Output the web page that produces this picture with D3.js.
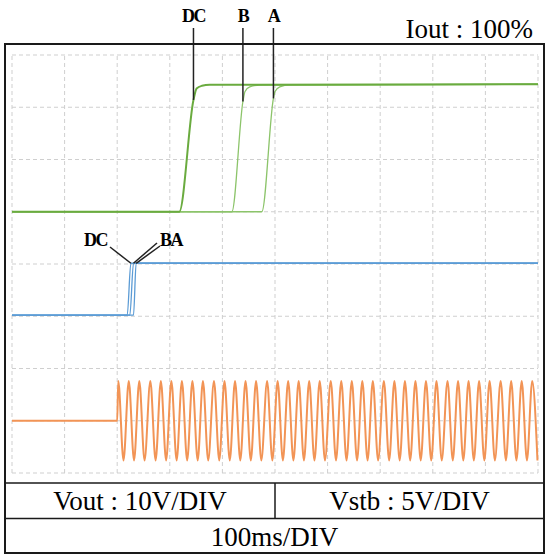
<!DOCTYPE html>
<html>
<head>
<meta charset="utf-8">
<script src="https://cdn.jsdelivr.net/npm/d3@7"></script>
<style>
  body { margin: 0; background: #fff; }
  svg { display: block; font-family: "Liberation Serif", "Times New Roman", serif; }
  .grid line { stroke: #cfcfcf; stroke-width: 1; stroke-dasharray: 4 3; }
  .frame { fill: none; stroke: #1a1a1a; stroke-width: 2; }
  .rule { stroke: #1a1a1a; stroke-width: 1.5; }
  .lead { stroke: #222; stroke-width: 1.5; fill: none; }
  .tag { font-weight: bold; font-size: 18px; letter-spacing: -1.5px; }
  .cap { font-size: 27px; }
</style>
</head>
<body>
<svg id="chart" width="546" height="554"></svg>
<script>
// time axis: 100 ms/DIV, 10 divisions
var timeSpan = [0, 1000];
var divCount = 8;

// Vout traces (ms, V) for the three cases, 10V/DIV
var voutDC = [[0, 0], [318, 0], [345, 21.4], [351, 23.6], [361, 24.1], [376, 24.3], [1000, 24.4]];
var voutB  = [[0, 0], [418, 0], [439, 21.1], [443, 23.0], [452, 23.9], [472, 24.25], [1000, 24.4]];
var voutA  = [[0, 0], [475, 0], [497, 21.7], [500, 23.0], [509, 23.9], [528, 24.3], [1000, 24.4]];

// Vstb traces (ms, V), 5V/DIV
var vstbDC = [[0, 0.1], [219, 0.1], [226, 5.07], [1000, 5.07]];
var vstbB  = [[0, 0.1], [224, 0.1], [231, 5.07], [1000, 5.07]];
var vstbA  = [[0, 0.1], [231, 0.1], [236, 5.07], [1000, 5.07]];

// AC input: off until 200 ms, then peaks / troughs
var acOn = 200;
var acPeak = 380;
var acPeakTimes = [202, 222, 242, 263, 283, 303, 323, 343, 363, 384, 404, 424, 444, 464, 485, 505, 525, 545, 565, 585,
                   606, 626, 646, 666, 686, 707, 727, 747, 767, 787, 807, 828, 848, 868, 888, 908, 929, 949, 969, 989];
var acTroughTimes = [212, 232, 252, 273, 293, 313, 333, 353, 373, 394, 414, 434, 454, 474, 495, 515, 535, 555, 575, 595,
                     616, 636, 656, 676, 696, 717, 737, 757, 777, 797, 817, 838, 858, 878, 898, 918, 939, 959, 979, 999];

var titleText = "Iout : 100%";
var tableRow1 = ["Vout : 10V/DIV", "Vstb : 5V/DIV"];
var tableRow2 = "100ms/DIV";

// channel placement on screen: ground level (div from bottom) and volts per div
var channels = {
  vout: { zero: 5, perDiv: 10 },
  vstb: { zero: 3, perDiv: 5 },
  ac:   { zero: 1, perDiv: 500 }
};

var svg = d3.select("#chart");

var x = d3.scaleLinear().domain(timeSpan).range([12, 538]);
var yDiv = d3.scaleLinear().domain([0, divCount]).range([473, 55]);

function yOf(ch) {
  var c = channels[ch];
  return v => yDiv(c.zero + v / c.perDiv);
}

// grid
var grid = svg.append("g").attr("class", "grid");
grid.selectAll(".vx")
    .data(d3.range(0, 1001, 100))
  .enter().append("line")
    .attr("x1", d => x(d)).attr("x2", d => x(d))
    .attr("y1", yDiv(0)).attr("y2", yDiv(divCount));
grid.selectAll(".hy")
    .data(d3.range(0, divCount + 1))
  .enter().append("line")
    .attr("x1", x(0)).attr("x2", x(1000))
    .attr("y1", d => yDiv(d)).attr("y2", d => yDiv(d));

function tracePath(ch) {
  var y = yOf(ch);
  return d3.line().x(d => x(d[0])).y(d => y(d[1])).curve(d3.curveMonotoneX);
}

// AC input
var acPts = [[0, 0], [acOn, 0]];
acPeakTimes.forEach((t, i) => {
  acPts.push([t, acPeak]);
  acPts.push([acTroughTimes[i], -acPeak]);
});
svg.append("path")
    .datum(acPts)
    .attr("d", tracePath("ac"))
    .attr("fill", "none")
    .attr("stroke", "#f29456")
    .attr("stroke-width", 2);

// Vstb
[vstbA, vstbB, vstbDC].forEach(d => {
  svg.append("path")
      .datum(d)
      .attr("d", tracePath("vstb"))
      .attr("fill", "none")
      .attr("stroke", "#5b9bd5")
      .attr("stroke-width", 1.3);
});

// Vout
[[voutA, 1.3, "#8cc46a"], [voutB, 1.3, "#8cc46a"], [voutDC, 2, "#6aab3f"]].forEach(s => {
  svg.append("path")
      .datum(s[0])
      .attr("d", tracePath("vout"))
      .attr("fill", "none")
      .attr("stroke", s[2])
      .attr("stroke-width", s[1]);
});

// case labels on Vout (leaders drop to the end of each rise)
var yV = yOf("vout");
[["DC", voutDC], ["B", voutB], ["A", voutA]].forEach(l => {
  var p = l[1][2];
  svg.append("line").attr("class", "lead")
      .attr("x1", x(p[0])).attr("x2", x(p[0]))
      .attr("y1", 28).attr("y2", yV(p[1]));
  svg.append("text").attr("class", "tag")
      .attr("x", x(p[0])).attr("y", 22)
      .attr("text-anchor", "middle")
      .text(l[0]);
});

// case labels on Vstb
var yS = yOf("vstb");
var dcTop = vstbDC[2], bTop = vstbB[2], aTop = vstbA[2];
svg.append("line").attr("class", "lead")
    .attr("x1", 110).attr("y1", 247).attr("x2", x(dcTop[0])).attr("y2", yS(dcTop[1]));
svg.append("line").attr("class", "lead")
    .attr("x1", 157).attr("y1", 243).attr("x2", x(bTop[0])).attr("y2", yS(bTop[1]));
svg.append("line").attr("class", "lead")
    .attr("x1", 160).attr("y1", 246).attr("x2", x(aTop[0])).attr("y2", yS(aTop[1]));
svg.append("text").attr("class", "tag")
    .attr("x", 107).attr("y", 246).attr("text-anchor", "end").text("DC");
svg.append("text").attr("class", "tag")
    .attr("x", 160).attr("y", 246).text("BA");

// title
svg.append("text").attr("class", "cap")
    .attr("x", 533).attr("y", 38).attr("text-anchor", "end")
    .text(titleText);

// frame and table
svg.append("rect").attr("class", "frame")
    .attr("x", 5).attr("y", 44).attr("width", 539).attr("height", 509);
svg.append("line").attr("class", "rule").attr("x1", 5).attr("x2", 544).attr("y1", 483).attr("y2", 483);
svg.append("line").attr("class", "rule").attr("x1", 5).attr("x2", 544).attr("y1", 518.5).attr("y2", 518.5);
svg.append("line").attr("class", "rule").attr("x1", 275).attr("x2", 275).attr("y1", 483).attr("y2", 518.5);

svg.selectAll(".row1")
    .data(tableRow1)
  .enter().append("text")
    .attr("class", "cap")
    .attr("x", (d, i) => i === 0 ? 140 : 409.5)
    .attr("y", 510)
    .attr("text-anchor", "middle")
    .text(d => d);
svg.append("text").attr("class", "cap")
    .attr("x", 274.5).attr("y", 546)
    .attr("text-anchor", "middle")
    .text(tableRow2);
</script>
</body>
</html>
